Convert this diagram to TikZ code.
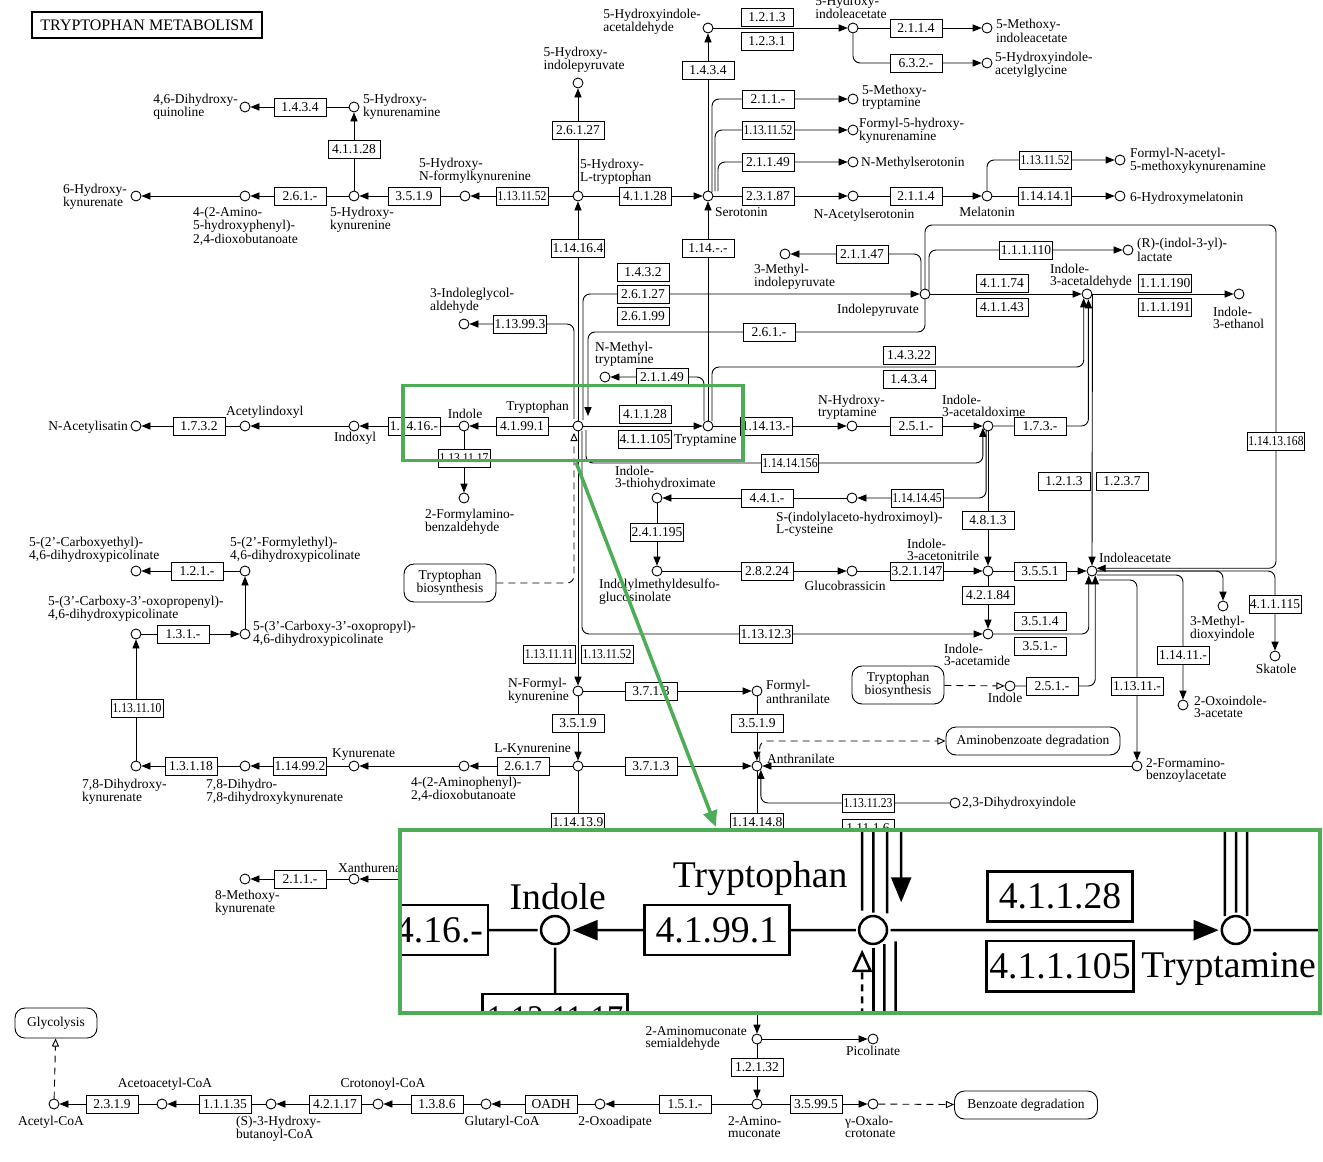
\documentclass[tikz,border=0pt]{standalone}
\usepackage{fontspec}
\setmainfont{Liberation Serif}
\newfontfamily\ecnarrow{Liberation Serif}[FakeStretch=0.86]
\usetikzlibrary{calc,arrows.meta}
\definecolor{zoomGreen}{HTML}{4DAC56}
\newcommand\kglw{0.9pt}
\newcommand\mapfont{\fontsize{13.5}{12}\selectfont}
% the whole map, drawn once normally and once magnified in the inset
\newcommand\trpmap{%
  % Title
  \node[draw, line width=2pt, inner xsep=8pt, minimum height=26pt,
    font=\fontsize{16}{18}\selectfont] (title) at (147,25) {TRYPTOPHAN METABOLISM};
  % Compounds -- upper left
  \node[cpd] (dhq) at (245,107) {};
  \node[cpd] (hkya) at (354,107) {};
  \node[cpd] (hky) at (354,196) {};
  \node[cpd] (ahd) at (245,196) {};
  \node[cpd] (hkyn) at (136,196) {};
  \node[cpd] (hfk) at (465,196) {};
  \node[cpd] (htp) at (578,196) {};
  \node[cpd] (hipy) at (578,83) {};
  \node[cpd] (sero) at (708,196) {};
  \node[cpd] (hial) at (708,28) {};
  \node[cpd] (hiaa) at (853,28) {};
  \node[cpd] (miaa) at (987,28) {};
  \node[cpd] (hiag) at (987,63) {};
  \node[cpd] (mtrp) at (853,99) {};
  \node[cpd] (fhk) at (853,130) {};
  \node[cpd] (nms) at (853,162) {};
  \node[cpd] (nas) at (853,196) {};
  \node[cpd] (mel) at (987,196) {};
  \node[cpd] (fam) at (1120,160) {};
  \node[cpd] (hmel) at (1120,196) {};
  % Compounds -- indole pyruvate branch
  \node[cpd] (igl) at (464,324) {};
  \node[cpd] (mipy) at (785,254) {};
  \node[cpd] (ipy) at (925,294) {};
  \node[cpd] (ilac) at (1128,250) {};
  \node[cpd] (iald) at (1087,294) {};
  \node[cpd] (ieth) at (1239,294) {};
  % Compounds -- tryptophan row
  \node[cpd] (trp) at (578,426) {};
  \node[cpd] (ind) at (464,426) {};
  \node[cpd] (idx) at (354,426) {};
  \node[cpd] (aix) at (245,426) {};
  \node[cpd] (nai) at (136,426) {};
  \node[cpd] (fab) at (464,498) {};
  \node[cpd] (tam) at (708,426) {};
  \node[cpd] (nmt) at (605,377) {};
  \node[cpd] (nht) at (852,426) {};
  \node[cpd] (iaox) at (988,426) {};
  % Compounds -- indoleacetate branch
  \node[cpd] (itx) at (657,498) {};
  \node[cpd] (scys) at (852,498) {};
  \node[cpd] (idg) at (657,571) {};
  \node[cpd] (gbr) at (852,571) {};
  \node[cpd] (ian) at (988,571) {};
  \node[cpd] (iaa) at (1092,571) {};
  \node[cpd] (iam) at (988,634) {};
  \node[cpd] (ind2) at (1010,686) {};
  \node[cpd] (mdi) at (1223,606) {};
  \node[cpd] (ska) at (1275,656) {};
  \node[cpd] (oia) at (1183,705) {};
  \node[cpd] (fbz) at (1137,766) {};
  % Compounds -- kynurenine branch
  \node[cpd] (cep) at (136,571) {};
  \node[cpd] (fep) at (245,571) {};
  \node[cpd] (cop) at (136,634) {};
  \node[cpd] (copr) at (245,634) {};
  \node[cpd] (dhk) at (136,766) {};
  \node[cpd] (ddk) at (245,766) {};
  \node[cpd] (kyna) at (354,766) {};
  \node[cpd] (apd) at (464,766) {};
  \node[cpd] (lkyn) at (578,766) {};
  \node[cpd] (nfk) at (578,691) {};
  \node[cpd] (fan) at (757,691) {};
  \node[cpd] (ant) at (757,766) {};
  \node[cpd] (dhi) at (955,803) {};
  \node[cpd] (xan) at (354,879) {};
  \node[cpd] (mkyn) at (245,879) {};
  % Compounds -- bottom row
  \node[cpd] (acoa) at (54,1104) {};
  \node[cpd] (aacoa) at (162,1104) {};
  \node[cpd] (hbcoa) at (271,1104) {};
  \node[cpd] (ccoa) at (378,1104) {};
  \node[cpd] (gcoa) at (486,1104) {};
  \node[cpd] (oxa) at (600,1104) {};
  \node[cpd] (amu) at (757,1104) {};
  \node[cpd] (oxc) at (873,1104) {};
  \node[cpd] (ams) at (757,1039) {};
  \node[cpd] (pic) at (873,1039) {};
  % Map links
  \node[pmap, minimum width=92pt, minimum height=38pt] (tb1) at (450,583) {Tryptophan\\biosynthesis};
  \node[pmap, minimum width=92pt, minimum height=38pt] (tb2) at (898,685) {Tryptophan\\biosynthesis};
  \node[pmap, minimum width=174pt, minimum height=28pt] (abd) at (1033,741) {Aminobenzoate degradation};
  \node[pmap, minimum width=82pt, minimum height=30pt] (gly) at (56,1023) {Glycolysis};
  \node[pmap, minimum width=143pt, minimum height=28pt] (bzd) at (1026,1105) {Benzoate degradation};
  % Free ends of the line bundles
  \coordinate (trpU1) at (574,419);
  \coordinate (trpU3) at (583,420);
  \coordinate (trpU4) at (588,416);
  \coordinate (trpD1) at (574,433);
  \coordinate (trpD3) at (582,431);
  \coordinate (trpD4) at (586,430);
  \coordinate (tamU1) at (704,421);
  \coordinate (tamU3) at (712,421);
  \coordinate (seroU1) at (712,192);
  \coordinate (seroU2) at (715,191);
  \coordinate (seroU3) at (718,191);
  \coordinate (ipyU1) at (921,290);
  \coordinate (ipyU2) at (925,289);
  \coordinate (ipyU3) at (929,290);
  \coordinate (iaaR2) at (1097,575);
  \coordinate (iaaR3) at (1099,580);
  \coordinate (kynD) at (578,850);
  \coordinate (antD) at (757,850);
  \coordinate (xanR) at (420,879);
  \coordinate (amsU) at (757,1012);
  % Reactions -- serotonin side
  \draw[rx] (hkya) -- (dhq);
  \draw[rx] (hky) -- (hkya);
  \draw[rx] (hky) -- (ahd);
  \draw[rx] (ahd) -- (hkyn);
  \draw[rx] (hfk) -- (hky);
  \draw[rx] (htp) -- (hfk);
  \draw[rx] (htp) -- (hipy);
  \draw[rx] (htp) -- (sero);
  \draw[rx] (trp) -- (htp);
  \draw[rx] (tam) -- (sero);
  \draw[rx] (sero) -- (hial);
  \draw[rx] (hial) -- (hiaa);
  \draw[rx] (hiaa) -- (miaa);
  \draw[rx, rc] (hiaa.south) |- (hiag);
  \draw[rx, rc] (seroU1) |- (mtrp);
  \draw[rx, rc] (seroU2) |- (fhk);
  \draw[rx, rc] (seroU3) |- (nms);
  \draw[rx] (sero) -- (nas);
  \draw[rx] (nas) -- (mel);
  \draw[rx, rc] (mel.north) |- (fam);
  \draw[rx] (mel) -- (hmel);
  % Reactions -- indole pyruvate
  \draw[rx, rc] (trpU1) |- (igl);
  \draw[rx, rc] (trpU3) |- (ipy);
  \draw[rx, rc] (ipy.south) |- (700,332) -| (trpU4);
  \draw[rx, rc] (ipyU1) |- (mipy);
  \draw[rx, rc] (ipyU3) |- (ilac);
  \draw[rx, rc] (ipyU2) |- (1100,225) -| (1276,400) |- (iaa.30);
  \draw[rx] (ipy) -- (iald);
  \draw[rx] (iald) -- (ieth);
  \draw[rx, rc] (tamU3) |- (900,367) -| (iald.233);
  \draw[rx, rc] (iaox) -| (iald.285);
  \draw[rx] (iald.east) -- (iaa.north);
  % Reactions -- tryptophan row
  \draw[rx] (trp) -- (ind);
  \draw[rx] (ind) -- (idx);
  \draw[rx] (idx) -- (aix);
  \draw[rx] (aix) -- (nai);
  \draw[rx] (ind) -- (fab);
  \draw[rx] (trp) -- (tam);
  \draw[rx] (tam) -- (nht);
  \draw[rx] (nht) -- (iaox);
  \draw[rx, rc] (tamU1) |- (nmt);
  \draw[rx, rc] (trpD4) |- (900,463) -| (iaox.200);
  \draw[rx, rc] (iaox.250) |- (scys);
  \draw[rx] (scys) -- (itx);
  \draw[rx] (itx) -- (idg);
  \draw[rx] (idg) -- (gbr);
  \draw[rx] (gbr) -- (ian);
  \draw[rx] (iaox) -- (ian);
  \draw[rx] (ian) -- (iaa);
  \draw[rx] (ian) -- (iam);
  \draw[rx, rc] (trpD3) |- (iam);
  \draw[rx, rc] (iam) -| (iaa.233);
  \draw[mapx] (tb2) -- (ind2);
  \draw[rx, rc] (ind2) -| (iaa.307);
  \draw[rx, rc] (iaa.east) -| (mdi);
  \draw[rx, rc] (iaa.east) -| (ska);
  \draw[rx, rc] (iaaR2) -| (oia);
  \draw[rx, rc] (iaaR3) -| (fbz);
  \draw[rx] (fbz) -- (ant);
  \draw[mapx, rc] (ant.60) |- (abd);
  \draw[mapx, rc] (tb1) -| (trpD1);
  % Reactions -- kynurenine
  \draw[rx] (trp) -- (nfk);
  \draw[rx] (nfk) -- (fan);
  \draw[rx] (nfk) -- (lkyn);
  \draw[rx] (fan) -- (ant);
  \draw[rx] (lkyn) -- (ant);
  \draw[rx] (lkyn) -- (apd);
  \draw[rx] (apd) -- (kyna);
  \draw[rx] (kyna) -- (ddk);
  \draw[rx] (ddk) -- (dhk);
  \draw[rx] (dhk) -- (cop);
  \draw[rx] (cop) -- (copr);
  \draw[rx] (copr) -- (fep);
  \draw[rx] (fep) -- (cep);
  \draw[ln] (lkyn) -- (kynD);
  \draw[ln] (ant) -- (antD);
  \draw[rx, rc] (dhi) -| (ant.315);
  \draw[rx] (xanR) -- (xan);
  \draw[rx] (xan) -- (mkyn);
  % Reactions -- bottom row
  \draw[mapx] (acoa) -- (gly);
  \draw[rx] (aacoa) -- (acoa);
  \draw[rx] (hbcoa) -- (aacoa);
  \draw[rx] (ccoa) -- (hbcoa);
  \draw[rx] (gcoa) -- (ccoa);
  \draw[rx] (oxa) -- (gcoa);
  \draw[rx] (amu) -- (oxa);
  \draw[rx] (amu) -- (oxc);
  \draw[mapx] (oxc) -- (bzd);
  \draw[rx] (ams) -- (amu);
  \draw[rx] (ams) -- (pic);
  \draw[rx] (amsU) -- (ams);
  % Enzymes
  \node[ec] (ec01) at (300,107) {1.4.3.4};
  \node[ec] (ec02) at (354,149) {4.1.1.28};
  \node[ec] (ec03) at (300,196) {2.6.1.-};
  \node[ec] (ec04) at (414,196) {3.5.1.9};
  \node[ecn] (ec05) at (522,196) {1.13.11.52};
  \node[ec] (ec06) at (645,196) {4.1.1.28};
  \node[ec] (ec07) at (578,130) {2.6.1.27};
  \node[ec] (ec08) at (578,248) {1.14.16.4};
  \node[ec] (ec09) at (708,248) {1.14.-.-};
  \node[ec] (ec10) at (708,70) {1.4.3.4};
  \node[ec] (ec11) at (767,17) {1.2.1.3};
  \node[ec] (ec12) at (767,41) {1.2.3.1};
  \node[ec] (ec13) at (916,28) {2.1.1.4};
  \node[ec] (ec14) at (916,63) {6.3.2.-};
  \node[ec] (ec15) at (768,99) {2.1.1.-};
  \node[ecn] (ec16) at (768,130) {1.13.11.52};
  \node[ec] (ec17) at (768,162) {2.1.1.49};
  \node[ec] (ec18) at (768,196) {2.3.1.87};
  \node[ec] (ec19) at (916,196) {2.1.1.4};
  \node[ecn] (ec20) at (1045,160) {1.13.11.52};
  \node[ec] (ec21) at (1045,196) {1.14.14.1};
  \node[ec] (ec22) at (862,254) {2.1.1.47};
  \node[ec] (ec23) at (1026,250) {1.1.1.110};
  \node[ec] (ec24) at (1002,283) {4.1.1.74};
  \node[ec] (ec25) at (1002,307) {4.1.1.43};
  \node[ec] (ec26) at (1165,283) {1.1.1.190};
  \node[ec] (ec27) at (1165,307) {1.1.1.191};
  \node[ec] (ec28) at (520,324) {1.13.99.3};
  \node[ec] (ec29) at (643,272) {1.4.3.2};
  \node[ec] (ec30) at (643,294) {2.6.1.27};
  \node[ec] (ec31) at (643,316) {2.6.1.99};
  \node[ec] (ec32) at (769,332) {2.6.1.-};
  \node[ec] (ec33) at (662,377) {2.1.1.49};
  \node[ec] (ec34) at (909,355) {1.4.3.22};
  \node[ec] (ec35) at (909,379) {1.4.3.4};
  \node[ec] (ec36) at (522,426) {4.1.99.1};
  \node[ec] (ec37) at (414,426) {1.14.16.-};
  \node[ecn] (ec38) at (464,458) {1.13.11.17};
  \node[ec] (ec39) at (645,414) {4.1.1.28};
  \node[ec] (ec40) at (645,439) {4.1.1.105};
  \node[ec] (ec41) at (766,426) {1.14.13.-};
  \node[ec] (ec42) at (916,426) {2.5.1.-};
  \node[ec] (ec43) at (1040,426) {1.7.3.-};
  \node[ecn] (ec44) at (790,463) {1.14.14.156};
  \node[ecn] (ec45) at (1276,441) {1.14.13.168};
  \node[ec] (ec46) at (1064,481) {1.2.1.3};
  \node[ec] (ec47) at (1122,481) {1.2.3.7};
  \node[ec] (ec48) at (767,498) {4.4.1.-};
  \node[ecn] (ec49) at (917,498) {1.14.14.45};
  \node[ec] (ec50) at (657,532) {2.4.1.195};
  \node[ec] (ec51) at (767,571) {2.8.2.24};
  \node[ec] (ec52) at (917,571) {3.2.1.147};
  \node[ec] (ec53) at (988,520) {4.8.1.3};
  \node[ec] (ec54) at (1040,571) {3.5.5.1};
  \node[ec] (ec55) at (988,595) {4.2.1.84};
  \node[ec] (ec56) at (1040,621) {3.5.1.4};
  \node[ec] (ec57) at (1040,646) {3.5.1.-};
  \node[ec] (ec58) at (766,634) {1.13.12.3};
  \node[ec] (ec59) at (1052,686) {2.5.1.-};
  \node[ec] (ec60) at (1275,604) {4.1.1.115};
  \node[ec] (ec61) at (1183,655) {1.14.11.-};
  \node[ec] (ec62) at (1137,686) {1.13.11.-};
  \node[ecn] (ec63) at (549,654) {1.13.11.11};
  \node[ecn] (ec64) at (607,654) {1.13.11.52};
  \node[ec] (ec65) at (651,691) {3.7.1.3};
  \node[ec] (ec66) at (578,723) {3.5.1.9};
  \node[ec] (ec67) at (757,723) {3.5.1.9};
  \node[ec] (ec68) at (651,766) {3.7.1.3};
  \node[ec] (ec69) at (523,766) {2.6.1.7};
  \node[ec] (ec70) at (300,766) {1.14.99.2};
  \node[ec] (ec71) at (191,766) {1.3.1.18};
  \node[ecn] (ec72) at (137,708) {1.13.11.10};
  \node[ec] (ec73) at (183,634) {1.3.1.-};
  \node[ec] (ec74) at (197,571) {1.2.1.-};
  \node[ec] (ec75) at (199,426) {1.7.3.2};
  \node[ecn] (ec76) at (868,803) {1.13.11.23};
  \node[ec] (ec77) at (868,828) {1.11.1.6};
  \node[ec] (ec78) at (757,822) {1.14.14.8};
  \node[ec] (ec79) at (578,822) {1.14.13.9};
  \node[ec] (ec80) at (300,879) {2.1.1.-};
  \node[ec] (ec81) at (112,1104) {2.3.1.9};
  \node[ec] (ec82) at (225,1104) {1.1.1.35};
  \node[ec] (ec83) at (335,1104) {4.2.1.17};
  \node[ec] (ec84) at (437,1104) {1.3.8.6};
  \node[ec] (ec85) at (551,1104) {OADH};
  \node[ec] (ec86) at (685,1104) {1.5.1.-};
  \node[ec] (ec87) at (816,1104) {3.5.99.5};
  \node[ec] (ec88) at (757,1067) {1.2.1.32};
  % Compound names
  \node[lab, anchor=east] (tdhq) at (238,107) {4,6-Dihydroxy-\\quinoline};
  \node[lab, anchor=west] (thkya) at (363,107) {5-Hydroxy-\\kynurenamine};
  \node[lab, anchor=north west] (thky) at (330,207) {5-Hydroxy-\\kynurenine};
  \node[lab, anchor=north west] (tahd) at (193,207) {4-(2-Amino-\\5-hydroxyphenyl)-\\2,4-dioxobutanoate};
  \node[lab, anchor=east] (thkyn) at (127,197) {6-Hydroxy-\\kynurenate};
  \node[lab, anchor=south west] (thfk) at (419,184) {5-Hydroxy-\\N-formylkynurenine};
  \node[lab, anchor=south west] (thtp) at (580,185) {5-Hydroxy-\\L-tryptophan};
  \node[lab, anchor=south] (thipy) at (584,73) {5-Hydroxy-\\indolepyruvate};
  \node[lab, anchor=north west] (tsero) at (715,207) {Serotonin};
  \node[lab, anchor=east] (thial) at (701,22) {5-Hydroxyindole-\\acetaldehyde};
  \node[lab, anchor=south] (thiaa) at (851,19) {5-Hydroxy-\\indoleacetate};
  \node[lab, anchor=west] (tmiaa) at (996,31) {5-Methoxy-\\indoleacetate};
  \node[lab, anchor=west] (thiag) at (995,65) {5-Hydroxyindole-\\acetylglycine};
  \node[lab, anchor=west] (tmtrp) at (862,97) {5-Methoxy-\\tryptamine};
  \node[lab, anchor=west] (tfhk) at (859,131) {Formyl-5-hydroxy-\\kynurenamine};
  \node[lab, anchor=west] (tnms) at (861,163) {N-Methylserotonin};
  \node[lab, anchor=north] (tnas) at (864,209) {N-Acetylserotonin};
  \node[lab, anchor=north] (tmel) at (987,207) {Melatonin};
  \node[lab, anchor=west] (tfam) at (1130,161) {Formyl-N-acetyl-\\5-methoxykynurenamine};
  \node[lab, anchor=west] (thmel) at (1130,198) {6-Hydroxymelatonin};
  \node[lab, anchor=south west] (tigl) at (430,314) {3-Indoleglycol-\\aldehyde};
  \node[lab, anchor=north west] (tmipy) at (754,264) {3-Methyl-\\indolepyruvate};
  \node[lab, anchor=north east] (tipy) at (919,304) {Indolepyruvate};
  \node[lab, anchor=west] (tilac) at (1137,250) {(R)-(indol-3-yl)-\\lactate};
  \node[lab, anchor=south west] (tiald) at (1050,289) {Indole-\\3-acetaldehyde};
  \node[lab, anchor=north west] (tieth) at (1213,307) {Indole-\\3-ethanol};
  \node[lab, anchor=south east] (ttrp) at (569,414) {Tryptophan};
  \node[lab, anchor=south] (tind) at (465,419) {Indole};
  \node[lab, anchor=north] (tidx) at (355,432) {Indoxyl};
  \node[lab, anchor=south west] (taix) at (226,419) {Acetylindoxyl};
  \node[lab, anchor=east] (tnai) at (128,427) {N-Acetylisatin};
  \node[lab, anchor=north west] (tfab) at (425,509) {2-Formylamino-\\benzaldehyde};
  \node[lab, anchor=north west] (ttam) at (674,434) {Tryptamine};
  \node[lab, anchor=south west] (tnmt) at (595,367) {N-Methyl-\\tryptamine};
  \node[lab, anchor=south west] (tnht) at (818,420) {N-Hydroxy-\\tryptamine};
  \node[lab, anchor=south west] (tiaox) at (942,417) {Indole-\\3-acetaldoxime};
  \node[lab, anchor=south west] (titx) at (615,491) {Indole-\\3-thiohydroximate};
  \node[lab, anchor=north west] (tscys) at (776,512) {S-(indolylaceto-hydroximoyl)-\\L-cysteine};
  \node[lab, anchor=north west] (tidg) at (599,579) {Indolylmethyldesulfo-\\glucosinolate};
  \node[lab, anchor=north] (tgbr) at (845,581) {Glucobrassicin};
  \node[lab, anchor=south west] (tian) at (907,561) {Indole-\\3-acetonitrile};
  \node[lab, anchor=south west] (tiaa) at (1099,563) {Indoleacetate};
  \node[lab, anchor=north west] (tiam) at (944,644) {Indole-\\3-acetamide};
  \node[lab, anchor=north] (tind2) at (1005,693) {Indole};
  \node[lab, anchor=north west] (tmdi) at (1190,616) {3-Methyl-\\dioxyindole};
  \node[lab, anchor=north] (tska) at (1276,664) {Skatole};
  \node[lab, anchor=west] (toia) at (1194,707) {2-Oxoindole-\\3-acetate};
  \node[lab, anchor=west] (tfbz) at (1146,770) {2-Formamino-\\benzoylacetate};
  \node[lab, anchor=south west] (tcep) at (29,563) {5-(2'-Carboxyethyl)-\\4,6-dihydroxypicolinate};
  \node[lab, anchor=south west] (tfep) at (230,563) {5-(2'-Formylethyl)-\\4,6-dihydroxypicolinate};
  \node[lab, anchor=south west] (tcop) at (48,622) {5-(3'-Carboxy-3'-oxopropenyl)-\\4,6-dihydroxypicolinate};
  \node[lab, anchor=west] (tcopr) at (253,634) {5-(3'-Carboxy-3'-oxopropyl)-\\4,6-dihydroxypicolinate};
  \node[lab, anchor=north west] (tdhk) at (82,779) {7,8-Dihydroxy-\\kynurenate};
  \node[lab, anchor=north west] (tddk) at (206,779) {7,8-Dihydro-\\7,8-dihydroxykynurenate};
  \node[lab, anchor=south west] (tkyna) at (332,761) {Kynurenate};
  \node[lab, anchor=north west] (tapd) at (411,777) {4-(2-Aminophenyl)-\\2,4-dioxobutanoate};
  \node[lab, anchor=south east] (tlkyn) at (571,756) {L-Kynurenine};
  \node[lab, anchor=east] (tnfk) at (569,691) {N-Formyl-\\kynurenine};
  \node[lab, anchor=west] (tfan) at (766,692) {Formyl-\\anthranilate};
  \node[lab, anchor=south west] (tant) at (767,764) {Anthranilate};
  \node[lab, anchor=west] (tdhi) at (962,803) {2,3-Dihydroxyindole};
  \node[lab, anchor=south west] (txan) at (338,873) {Xanthurenate};
  \node[lab, anchor=north west] (tmkyn) at (215,890) {8-Methoxy-\\kynurenate};
  \node[lab, anchor=north] (tacoa) at (51,1116) {Acetyl-CoA};
  \node[lab, anchor=south] (taacoa) at (165,1091) {Acetoacetyl-CoA};
  \node[lab, anchor=north west] (thbcoa) at (236,1116) {(S)-3-Hydroxy-\\butanoyl-CoA};
  \node[lab, anchor=south] (tccoa) at (383,1091) {Crotonoyl-CoA};
  \node[lab, anchor=north] (tgcoa) at (502,1116) {Glutaryl-CoA};
  \node[lab, anchor=north] (toxa) at (615,1116) {2-Oxoadipate};
  \node[lab, anchor=north west] (tamu) at (728,1116) {2-Amino-\\muconate};
  \node[lab, anchor=north west] (toxc) at (845,1116) {γ-Oxalo-\\crotonate};
  \node[lab, anchor=east] (tams) at (747,1038) {2-Aminomuconate\\semialdehyde};
  \node[lab, anchor=north] (tpic) at (873,1046) {Picolinate};
}

\begin{document}
\begin{tikzpicture}[x=1pt, y=-1pt,
  cpd/.style={circle, draw, fill=white, line width=\kglw, minimum size=10pt, inner sep=0pt},
  ec/.style={draw, fill=white, line width=\kglw, minimum width=52pt, minimum height=18pt,
    inner sep=1pt, font=\mapfont},
  ecn/.style={ec, font=\mapfont\ecnarrow},
  lab/.style={inner sep=0pt, align=left, font=\mapfont},
  pmap/.style={draw, fill=white, line width=\kglw, rounded corners=10pt, align=center,
    inner sep=3pt, font=\mapfont},
  ln/.style={line width=\kglw},
  rx/.style={ln, -{Triangle[length=0pt 10, width=0pt 8]}},
  mapx/.style={ln, dash pattern=on 7pt off 5pt, -{Triangle[open, length=0pt 9, width=0pt 8]}},
  rc/.style={rounded corners=7pt},
  zoomln/.style={draw=zoomGreen, line width=3.5pt}
]
  \useasboundingbox (0,0) rectangle (1323,1162);
  \trpmap
  % Zoom frame around tryptophan
  \node[zoomln, minimum width=340pt, minimum height=75pt, inner sep=0pt] (zsrc) at (573,423) {};
  \node[fill=white, minimum width=920pt, minimum height=183pt, inner sep=0pt] (zdst) at (860,921.5) {};
  \draw[zoomGreen, line width=3.5pt, -{Triangle[length=16pt, width=14pt]}]
    ($(zsrc.south)+(3,0)$) -- ($(zdst.north west)+(316,-3)$);
  % Magnified view
  \begin{scope}
    \clip (zdst.south west) rectangle (zdst.north east);
    \begin{scope}[shift={(-739.56,-258.54)}, scale=2.79, transform shape]
      \renewcommand\kglw{2.5pt}
      \trpmap
    \end{scope}
  \end{scope}
  \draw[zoomln] (zdst.south west) rectangle (zdst.north east);
\end{tikzpicture}
\end{document}
